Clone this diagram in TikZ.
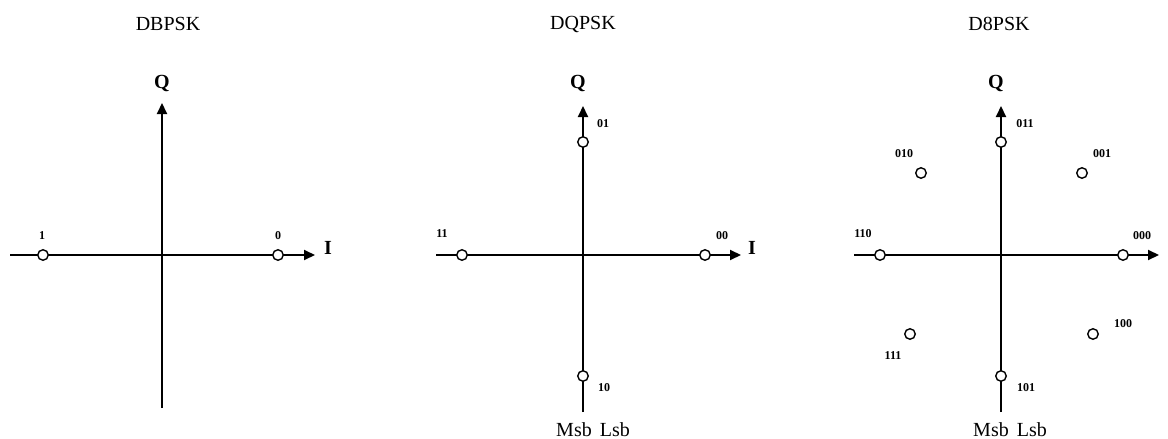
\documentclass[tikz,border=0pt]{standalone}
\usepackage{fontspec}
\setmainfont{Liberation Serif}
\usetikzlibrary{arrows.meta}
\begin{document}
\begin{tikzpicture}[x=1pt,y=-1pt,
  axis/.style={line width=2pt, -{Triangle[length=11pt,width=10pt]}},
  pt/.style={circle, draw, fill=white, line width=1.4pt, minimum size=10.5pt, inner sep=0pt},
  title/.style={font=\fontsize{20}{24}\selectfont, inner sep=0pt},
  axlabel/.style={font=\fontsize{20}{24}\selectfont\bfseries, inner sep=0pt},
  msb/.style={font=\fontsize{20}{24}\selectfont, inner sep=0pt},
  bits/.style={font=\fontsize{12}{14}\selectfont\bfseries, inner sep=0pt},
]
\useasboundingbox (0,0) rectangle (1168,439);

% ---------------- DBPSK ----------------
\node[title] (t1) at (168,24) {DBPSK};
\coordinate (w1) at (10,255);
\coordinate (e1) at (315,255);
\coordinate (s1) at (162,408);
\coordinate (n1) at (162,103);
\draw[axis] (w1) -- (e1);
\draw[axis] (s1) -- (n1);
\node[axlabel] (q1) at (162,83) {Q};
\node[axlabel] (i1) at (328,248) {I};
\node[pt] (p1a) at (43,255) {};
\node[pt] (p1b) at (278,255) {};
\node[bits] (l1a) at (42,236) {1};
\node[bits] (l1b) at (278,236) {0};

% ---------------- DQPSK ----------------
\node[title] (t2) at (583,24) {DQPSK};
\coordinate (w2) at (436,255);
\coordinate (e2) at (741,255);
\coordinate (s2) at (583,412);
\coordinate (n2) at (583,106);
\draw[axis] (w2) -- (e2);
\draw[axis] (s2) -- (n2);
\node[axlabel] (q2) at (578,83) {Q};
\node[axlabel] (i2) at (752,248) {I};
\node[pt] (p2a) at (705,255) {};
\node[pt] (p2b) at (583,142) {};
\node[pt] (p2c) at (462,255) {};
\node[pt] (p2d) at (583,376) {};
\node[bits] (l2a) at (722,236) {00};
\node[bits] (l2b) at (603,124) {01};
\node[bits] (l2c) at (442,234) {11};
\node[bits] (l2d) at (604,388) {10};
\node[msb] (m2) at (593,430) {Msb\hspace{8pt}Lsb};

% ---------------- D8PSK ----------------
\node[title] (t3) at (999,24) {D8PSK};
\coordinate (w3) at (854,255);
\coordinate (e3) at (1159,255);
\coordinate (s3) at (1001,412);
\coordinate (n3) at (1001,106);
\draw[axis] (w3) -- (e3);
\draw[axis] (s3) -- (n3);
\node[axlabel] (q3) at (996,83) {Q};
\node[axlabel] (i3) at (1172,248) {I};
\node[pt] (p3a) at (1123,255) {};
\node[pt] (p3b) at (1082,173) {};
\node[pt] (p3c) at (1001,142) {};
\node[pt] (p3d) at (921,173) {};
\node[pt] (p3e) at (880,255) {};
\node[pt] (p3f) at (910,334) {};
\node[pt] (p3g) at (1001,376) {};
\node[pt] (p3h) at (1093,334) {};
\node[bits] (l3a) at (1142,236) {000};
\node[bits] (l3b) at (1102,154) {001};
\node[bits] (l3c) at (1025,124) {011};
\node[bits] (l3d) at (904,154) {010};
\node[bits] (l3e) at (863,234) {110};
\node[bits] (l3f) at (893,356) {111};
\node[bits] (l3g) at (1026,388) {101};
\node[bits] (l3h) at (1123,324) {100};
\node[msb] (m3) at (1010,430) {Msb\hspace{8pt}Lsb};
\end{tikzpicture}
\end{document}
